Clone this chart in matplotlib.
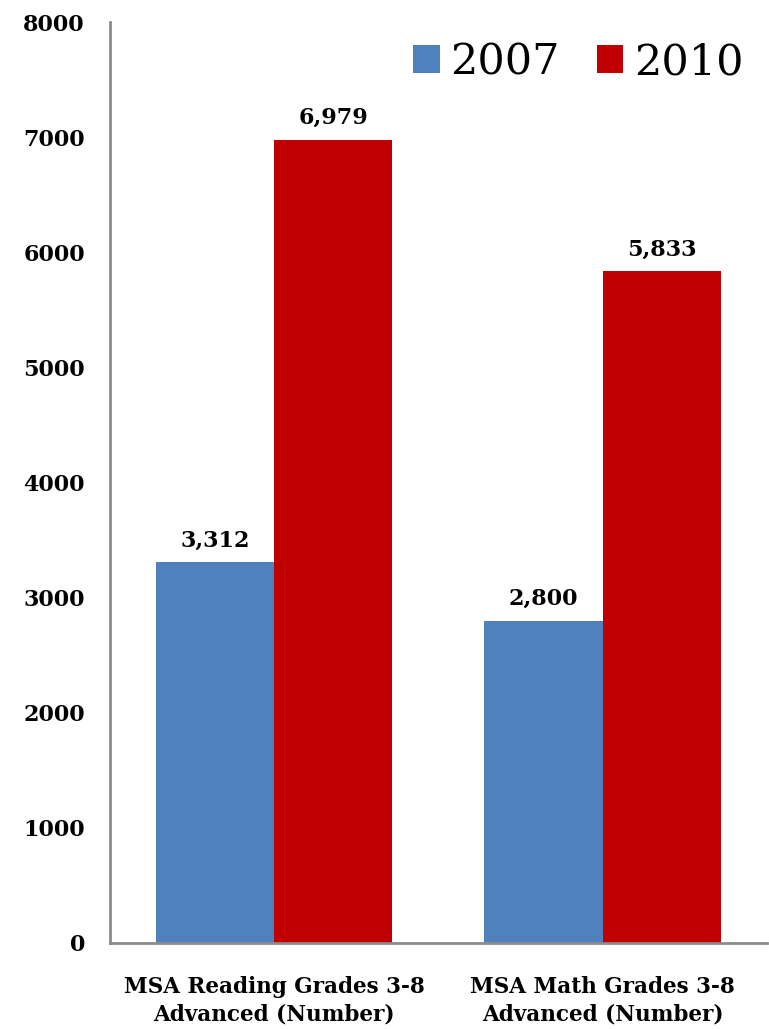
import numpy as np
import matplotlib.pyplot as plt

categories = ["MSA Reading Grades 3-8\nAdvanced (Number)", "MSA Math Grades 3-8\nAdvanced (Number)"]
years = ["2007", "2010"]
vals_2007 = [3312, 2800]
vals_2010 = [6979, 5833]
yticks = [0, 1000, 2000, 3000, 4000, 5000, 6000, 7000, 8000]

cols = {"2007": "#4F81BD", "2010": "#C00000"}

plt.rcParams.update({
    "font.family": ["DejaVu Serif"],
    "font.weight": "bold",
})

fig = plt.figure(figsize=(7.69, 10.29), dpi=100)
ax = fig.add_axes([0.143, 0.0836, 0.854, 0.895])

x = np.arange(len(categories))
w = 0.36

b1 = ax.bar(x - w / 2, vals_2007, w, color=cols["2007"], label="2007")
b2 = ax.bar(x + w / 2, vals_2010, w, color=cols["2010"], label="2010")

for bars in (b1, b2):
    for r in bars:
        ax.text(r.get_x() + r.get_width() / 2, r.get_height() + 90,
                f"{int(r.get_height()):,}", ha="center", va="bottom",
                fontsize=16, fontweight="bold")

ax.set_xlim(-0.5, 1.5)
ax.set_ylim(0, 8000)
ax.set_yticks(yticks)
ax.set_yticklabels([str(v) for v in yticks], fontsize=16, fontweight="bold")
ax.set_xticks(x)
ax.set_xticklabels(categories, fontsize=15.5, fontweight="bold", linespacing=1.3)
ax.tick_params(axis="both", length=0)
ax.tick_params(axis="y", pad=18)
ax.tick_params(axis="x", pad=24)

ax.spines[["top", "right"]].set_visible(False)
ax.spines[["left", "bottom"]].set_color("#8C8C8C")
ax.spines[["left", "bottom"]].set_linewidth(2)

ax.legend(loc="upper right", bbox_to_anchor=(1.004, 1.007), ncol=2, frameon=False,
          handlelength=0.62, handleheight=0.62, handletextpad=0.25,
          columnspacing=0.85, borderaxespad=0.2,
          prop={"family": "DejaVu Serif", "size": 31, "weight": "normal"})

fig.savefig("out.png", dpi=100)
